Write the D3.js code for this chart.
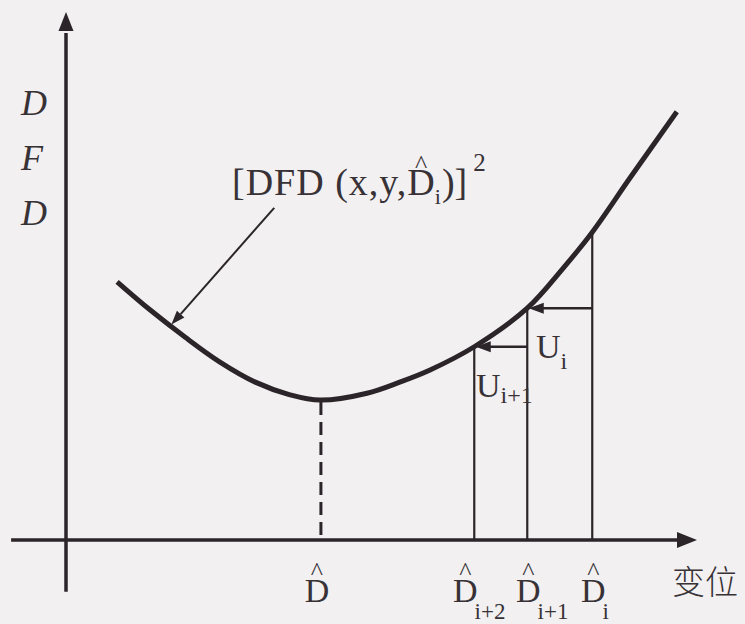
<!DOCTYPE html>
<html>
<head>
<meta charset="utf-8">
<script src="https://cdn.jsdelivr.net/npm/d3@7/dist/d3.min.js"></script>
<style>
  html, body { margin: 0; padding: 0; background: #f2f0f1; }
  svg { display: block; }
  text { font-family: "Liberation Serif", "Times New Roman", serif; fill: #383236; }
  .cjk { font-family: "Noto Sans CJK SC", sans-serif; font-weight: 300; }
</style>
</head>
<body>
<svg id="chart" width="745" height="624"></svg>
<script>
// Squared displaced-frame-difference curve, sampled as (displacement, DFD²)
const curveDisp = [8.1, 13.3, 18.9, 24.4, 30.0, 35.5, 40.3, 47.7, 52.9, 57.7, 64.7, 73.1, 78.8, 83.4, 89.4, 96.8];
const curveDFD  = [48.9, 43.6, 38.4, 33.7, 29.9, 27.5, 26.5, 27.8, 29.9, 32.2, 36.6, 43.9, 51.5, 58.3, 68.6, 81.1];

// Iterates of the displacement estimate and the optimum
const iterNames = ["D_i", "D_i+1", "D_i+2"];
const iterDisp  = [83.4, 73.1, 64.7];
const iterDFD   = [58.3, 43.9, 36.6];
const optDisp = 40.4;
const optDFD  = 26.5;

// Update steps U_i and U_i+1
const stepNames = ["i", "i+1"];

// Axis labels
const yAxisLetters = ["D", "F", "D"];
const xAxisTitle = "变位";

const svg = d3.select("#chart");
const ink = "#2b2428";

// Origin of the axes at (66, 540); both axes run to 100 units
const x = d3.scaleLinear().domain([0, 100]).range([66, 697]);
const y = d3.scaleLinear().domain([0, 100]).range([540, 12]);

// ---- axes ----
const axisW = 3.5;
svg.append("line").attr("x1", x(-8.7)).attr("x2", x(97)).attr("y1", y(0)).attr("y2", y(0))
  .attr("stroke", ink).attr("stroke-width", axisW);
svg.append("line").attr("x1", x(0)).attr("x2", x(0)).attr("y1", y(-9.8)).attr("y2", y(96))
  .attr("stroke", ink).attr("stroke-width", axisW);
// arrowheads
svg.append("path")
  .attr("d", `M${x(100)},${y(0)} L${x(100) - 20},${y(0) - 8} L${x(100) - 20},${y(0) + 8} Z`)
  .attr("fill", ink);
svg.append("path")
  .attr("d", `M${x(0)},${y(100)} L${x(0) - 7.5},${y(100) + 19} L${x(0) + 7.5},${y(100) + 19} Z`)
  .attr("fill", ink);

// ---- vertical drop lines at the iterates ----
iterDisp.forEach((d, k) => {
  svg.append("line")
    .attr("x1", x(d)).attr("x2", x(d))
    .attr("y1", y(iterDFD[k])).attr("y2", y(0))
    .attr("stroke", ink).attr("stroke-width", 2.2);
});

// dashed line under the minimum
svg.append("line")
  .attr("x1", x(optDisp)).attr("x2", x(optDisp))
  .attr("y1", y(optDFD) + 2).attr("y2", y(0))
  .attr("stroke", ink).attr("stroke-width", 3)
  .attr("stroke-dasharray", "13,7");

// ---- horizontal step arrows U_i, U_i+1 ----
function arrowH(x0, x1, yy) {
  svg.append("line").attr("x1", x0).attr("x2", x1 + 12).attr("y1", yy).attr("y2", yy)
    .attr("stroke", ink).attr("stroke-width", 2.4);
  svg.append("path")
    .attr("d", `M${x1},${yy} L${x1 + 15},${yy - 5.5} L${x1 + 15},${yy + 5.5} Z`)
    .attr("fill", ink);
}
for (let k = 0; k < 2; k++) {
  arrowH(x(iterDisp[k]), x(iterDisp[k + 1]) + 1.5, y(iterDFD[k + 1]));
}

// ---- the curve ----
const line = d3.line()
  .x((d, i) => x(curveDisp[i]))
  .y((d, i) => y(curveDFD[i]))
  .curve(d3.curveCatmullRom.alpha(0.5));
svg.append("path")
  .attr("d", line(curveDisp))
  .attr("fill", "none")
  .attr("stroke", ink)
  .attr("stroke-width", 5)
  .attr("stroke-linecap", "butt");

// ---- leader arrow to the curve ----
(function () {
  const sx = x(33.0), sy = y(62.9);
  const tx = x(16.7), ty = y(40.8);
  const ang = Math.atan2(ty - sy, tx - sx);
  const L = 14, hw = 5;
  const bx = tx - L * Math.cos(ang), by = ty - L * Math.sin(ang);
  svg.append("line").attr("x1", sx).attr("y1", sy).attr("x2", bx).attr("y2", by)
    .attr("stroke", ink).attr("stroke-width", 2);
  svg.append("path")
    .attr("d", `M${tx},${ty} L${bx - hw * Math.sin(ang)},${by + hw * Math.cos(ang)} L${bx + hw * Math.sin(ang)},${by - hw * Math.cos(ang)} Z`)
    .attr("fill", ink);
})();

// ---- text helpers ----
// Lay out a run of text pieces left to right; pieces may carry a hat or sit as sub/superscripts.
function runText(x0, y0, parts) {
  let cx = x0;
  parts.forEach(p => {
    const t = svg.append("text")
      .attr("x", cx).attr("y", y0 + (p.dy || 0))
      .attr("font-size", p.size)
      .text(p.t);
    if (p.spacing) t.attr("letter-spacing", p.spacing);
    const w = t.node().getComputedTextLength();
    if (p.hat) {
      svg.append("text")
        .attr("x", cx + w / 2).attr("y", y0 + p.hat.dy)
        .attr("text-anchor", "middle")
        .attr("font-size", p.hat.size)
        .text("^");
    }
    cx += w + (p.gap || 0);
  });
}

// y-axis title, stacked letters
yAxisLetters.forEach((c, i) => {
  svg.append("text")
    .attr("x", 21).attr("y", 115 + i * 55)
    .attr("font-size", 36)
    .attr("font-style", "italic")
    .text(c);
});

// x-axis title
svg.append("text").attr("class", "cjk")
  .attr("x", 672).attr("y", 594)
  .attr("font-size", 33)
  .text(xAxisTitle);

// curve label [DFD (x,y,D̂_i)]²
runText(232, 195, [
  { t: "[DFD (x,y,", size: 38, spacing: 1 },
  { t: "D", size: 38, hat: { dy: -22, size: 26 } },
  { t: "i", size: 22, dy: 9, gap: 1 },
  { t: ")]", size: 38, gap: 6 },
  { t: "2", size: 25, dy: -24 }
]);

// bottom labels under the displacement axis
const hatSize = 26;
svg.append("text").attr("x", x(optDisp) - 4).attr("y", 602)
  .attr("text-anchor", "middle").attr("font-size", 34).text("D");
svg.append("text").attr("x", x(optDisp) - 4).attr("y", 580)
  .attr("text-anchor", "middle").attr("font-size", hatSize).text("^");

const subs = ["i", "i+1", "i+2"];
const labelShift = [1, 1, -9];
iterDisp.forEach((d, k) => {
  const cx = x(d) + labelShift[k];
  const dT = svg.append("text").attr("x", cx).attr("y", 602)
    .attr("text-anchor", "middle").attr("font-size", 34).text("D");
  const w = dT.node().getComputedTextLength();
  svg.append("text").attr("x", cx).attr("y", 580)
    .attr("text-anchor", "middle").attr("font-size", hatSize).text("^");
  svg.append("text").attr("x", cx + w / 2 - 3).attr("y", 619)
    .attr("font-size", 23).text(subs[k]);
});

// step labels U_i and U_i+1
runText(536, 358, [
  { t: "U", size: 34 },
  { t: stepNames[0], size: 24, dy: 11 }
]);
runText(476, 397, [
  { t: "U", size: 34 },
  { t: stepNames[1], size: 24, dy: 6 }
]);
</script>
</body>
</html>
